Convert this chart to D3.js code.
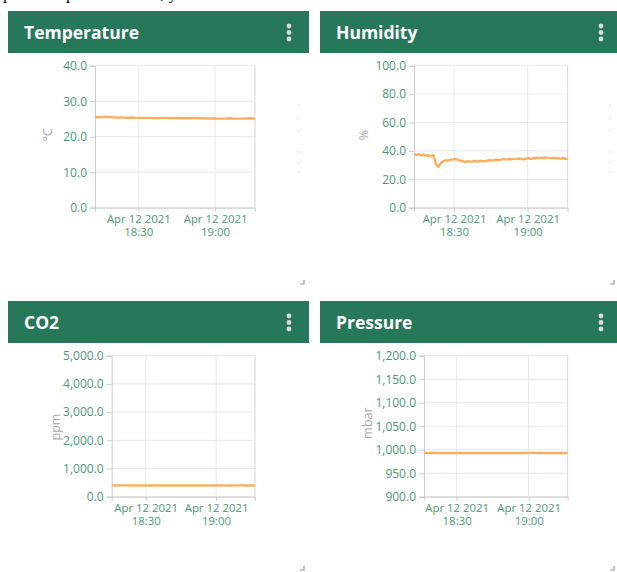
<!DOCTYPE html>
<html><head><meta charset="utf-8">
<script src="https://cdn.jsdelivr.net/npm/d3@7"></script>
<style>
html,body{margin:0;padding:0;background:#fff;overflow:hidden;}
svg{display:block;}
</style></head>
<body>
<svg id="c" width="617" height="572"></svg>
<script>
// ---- data ----
const titles = ["Temperature", "Humidity", "CO2", "Pressure"];
const units = ["°C", "%", "ppm", "mbar"];
const xTickTimes = ["2021-04-12T18:30:00", "2021-04-12T19:00:00"];
const timeRanges = [
  ["2021-04-12T18:13:05", "2021-04-12T19:15:35"],
  ["2021-04-12T18:13:40", "2021-04-12T19:16:20"],
  ["2021-04-12T18:15:30", "2021-04-12T19:16:35"],
  ["2021-04-12T18:16:25", "2021-04-12T19:16:15"]
];
const yDomains = [[0, 40], [0, 100], [0, 5000], [900, 1200]];
const yTickValues = [
  [0, 10, 20, 30, 40],
  [0, 20, 40, 60, 80, 100],
  [0, 1000, 2000, 3000, 4000, 5000],
  [900, 950, 1000, 1050, 1100, 1150, 1200]
];
const temperature = [25.5,25.5,25.6,25.5,25.4,25.4,25.3,25.4,25.3,25.3,25.3,25.3,25.2,25.3,25.3,25.2,
  25.3,25.2,25.2,25.3,25.2,25.2,25.1,25.2,25.1,25.1,25.2,25.1,25.1,25.1,25.2,25.1];
const humidity = [37.8,37.2,37.6,36.9,37.3,36.6,36.9,36.2,37.0,30.5,28.6,31.5,32.8,33.4,33.1,33.8,
  34.0,34.3,33.7,33.2,32.6,32.2,32.7,32.3,32.6,32.9,32.5,33.0,32.8,32.6,33.1,33.4,
  33.2,33.6,33.8,33.5,34.0,34.2,33.9,34.3,34.1,34.4,34.2,34.6,34.3,34.1,34.5,34.8,
  34.4,34.9,35.2,34.8,35.3,35.0,35.4,35.1,34.9,35.2,34.7,35.0,34.6,34.8,34.5,34.6];
const co2 = [402,398,401,400,397,399,401,398,396,399,400,397,398,401,399,398,
  397,400,399,398,401,399,397,398,400,399,398,400,401,399,398,400];
const pressure = [993.0,993.2,993.4,993.1,993.0,992.9,993.0,993.1,993.0,992.9,993.0,993.1,993.0,993.0,992.9,993.0,
  993.0,993.1,993.0,992.9,993.0,993.1,993.2,993.3,993.2,993.1,993.2,993.1,993.0,993.1,993.0,993.0];
const seriesList = [temperature, humidity, co2, pressure];

// ---- layout ----
const svg = d3.select("#c");
const panels = [
  {x: 8,   y: 11,  w: 301, plotL: 95,    plotR: 255,   plotH: 142, labX: 47,  labY: 135},
  {x: 320, y: 11,  w: 300, plotL: 414,   plotR: 567.7, plotH: 142, labX: 363, labY: 135},
  {x: 8,   y: 301, w: 301, plotL: 111.7, plotR: 255,   plotH: 141, labX: 55,  labY: 427},
  {x: 320, y: 301, w: 300, plotL: 424,   plotR: 567.7, plotH: 141, labX: 367, labY: 423}
];
const green = "#27775a";
const tickGreen = "#4f9678";
const fontFam = "'Open Sans', 'Noto Sans', sans-serif";
const parse = d3.isoParse;
const fmtY = d3.format(",.1f");
const fmtDate = d3.timeFormat("%b %d %Y");
const fmtTime = d3.timeFormat("%H:%M");

// stray text from the page above (cropped in the original)
const topText = svg.append("text").attr("y", -1).attr("font-family", "'Liberation Serif', serif")
  .attr("font-size", 17).attr("fill", "#000");
topText.append("tspan").attr("x", 3).text("p");
topText.append("tspan").attr("x", 66).text("p");
topText.append("tspan").attr("x", 160).text(", y");

panels.forEach((p, k) => {
  const g = svg.append("g");
  // header
  g.append("rect").attr("x", p.x).attr("y", p.y).attr("width", p.w).attr("height", 42).attr("fill", green);
  g.append("text").attr("x", p.x + 16).attr("y", p.y + 28)
    .attr("font-family", fontFam).attr("font-weight", 700).attr("font-size", 17.5)
    .attr("fill", "#fff").text(titles[k]);
  [0, 6.5, 13].forEach(dy => g.append("circle").attr("cx", p.x + 281).attr("cy", p.y + 15 + dy)
    .attr("r", 2.4).attr("fill", "#dcdcdc"));

  const top = p.y + 54.7, bottom = top + p.plotH;
  const times = timeRanges[k].map(parse);
  const vals = seriesList[k];
  const n = vals.length;
  const data = vals.map((v, i) => ({t: new Date(+times[0] + (times[1] - times[0]) * i / (n - 1)), v}));
  const x = d3.scaleTime().domain(times).range([p.plotL, p.plotR]);
  const y = d3.scaleLinear().domain(yDomains[k]).range([bottom, top]);

  // gridlines
  g.append("g").selectAll("line").data(yTickValues[k]).join("line")
    .attr("x1", p.plotL).attr("x2", p.plotR).attr("y1", d => y(d)).attr("y2", d => y(d))
    .attr("stroke", "#e4ebe8").attr("stroke-width", 1);
  const xt = xTickTimes.map(parse);
  g.append("g").selectAll("line").data(xt).join("line")
    .attr("x1", d => x(d)).attr("x2", d => x(d)).attr("y1", top).attr("y2", bottom)
    .attr("stroke", "#e4ebe8").attr("stroke-width", 1);
  // right border
  g.append("line").attr("x1", p.plotR).attr("x2", p.plotR).attr("y1", top).attr("y2", bottom)
    .attr("stroke", "#d4d8d6");

  // y axis
  const ya = g.append("g").attr("transform", `translate(${p.plotL},0)`)
    .call(d3.axisLeft(y).tickValues(yTickValues[k]).tickFormat(fmtY).tickSize(5).tickPadding(3));
  ya.select(".domain").attr("stroke", "#c9cccb");
  ya.selectAll(".tick line").attr("stroke", "#c9cccb");
  ya.selectAll(".tick text").attr("fill", tickGreen).attr("font-family", fontFam).attr("font-size", 12);

  // x axis
  const xa = g.append("g").attr("transform", `translate(0,${bottom})`)
    .call(d3.axisBottom(x).tickValues(xt).tickSize(4).tickFormat(""));
  xa.select(".domain").attr("stroke", "#c9cccb");
  xa.selectAll(".tick line").attr("stroke", "#c9cccb");
  xa.selectAll(".tick").each(function(d) {
    const tk = d3.select(this);
    tk.append("text").attr("fill", tickGreen).attr("font-family", fontFam)
      .attr("font-size", 11.4).attr("text-anchor", "middle").attr("y", 15.5).text(fmtDate(d));
    tk.append("text").attr("fill", tickGreen).attr("font-family", fontFam)
      .attr("font-size", 11.4).attr("text-anchor", "middle").attr("y", 28.5).text(fmtTime(d));
  });

  // unit label
  g.append("text").attr("transform", `translate(${p.labX},${p.labY}) rotate(-90)`)
    .attr("text-anchor", "middle").attr("dominant-baseline", "central")
    .attr("font-family", fontFam).attr("font-size", 12.5).attr("fill", "#a8a8a8").text(units[k]);

  // line
  g.append("path").datum(data)
    .attr("d", d3.line().x(d => x(d.t)).y(d => y(d.v)))
    .attr("fill", "none").attr("stroke", "#ffaa58").attr("stroke-width", 2.4)
    .attr("stroke-linejoin", "round").attr("stroke-opacity", 0.95);

  // resize corner mark
  const cx = p.x + (k % 2 === 0 ? 296 : 294), cy = p.y + (k < 2 ? 273 : 269);
  g.append("path").attr("d", `M${cx},${cy - 4}V${cy}H${cx - 4}`)
    .attr("fill", "none").attr("stroke", "#999").attr("stroke-width", 1.2);

  // faint clipped marks at the right of the top panels
  if (k < 2) {
    const mx = k === 0 ? 298 : 609;
    [105, 118, 131, 152, 163, 172].forEach(my => g.append("line")
      .attr("x1", mx).attr("x2", mx + 2).attr("y1", my).attr("y2", my)
      .attr("stroke", "#dedede").attr("stroke-width", 1));
  }
});
</script>
</body></html>
